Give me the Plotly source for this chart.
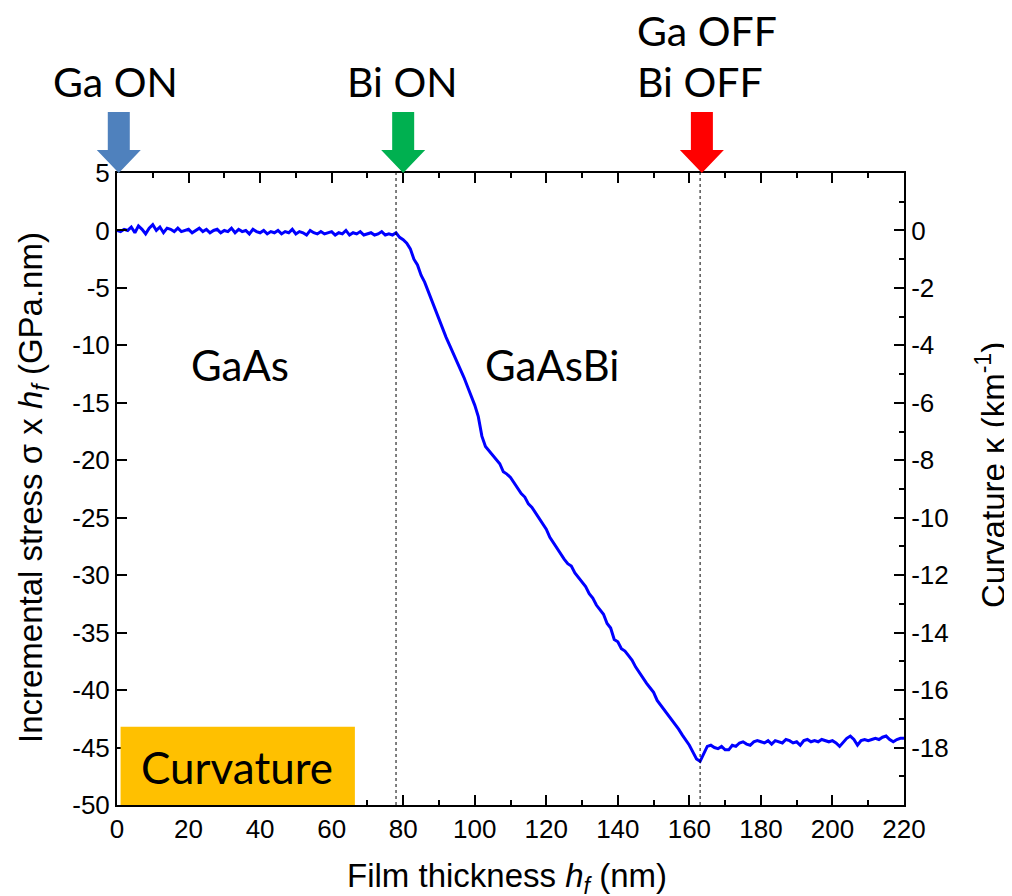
import plotly.graph_objects as go

# film thickness (nm), 1 nm steps
thickness = list(range(0, 221))

# incremental stress x thickness (GPa.nm)
stress = [
    0.0, -0.1, 0.1, 0.0, 0.3, -0.2, 0.4, 0.1, -0.3, 0.2,
    0.5, 0.0, 0.3, -0.2, 0.2, 0.1, -0.1, 0.2, -0.1, 0.0,
    0.1, -0.2, 0.0, 0.2, -0.1, 0.1, -0.2, 0.0, 0.1, -0.2,
    0.0, -0.1, 0.2, -0.2, 0.1, -0.1, 0.0, -0.3, 0.1, -0.1,
    -0.2, 0.0, -0.3, -0.1, -0.2, 0.0, -0.3, -0.1, -0.2, 0.1,
    -0.3, -0.1, -0.2, -0.4, 0.0, -0.2, -0.3, -0.1, -0.3, -0.2,
    -0.1, -0.4, -0.2, -0.3, 0.0, -0.4, -0.2, -0.3, -0.1, -0.4,
    -0.3, -0.2, -0.4, -0.3, -0.1, -0.4, -0.3, -0.4, -0.2, -0.6,
    -0.8, -1.1, -1.6, -2.5, -3.0, -3.9, -4.5, -5.3, -6.1, -6.9,
    -7.7, -8.6, -9.3, -10.0, -10.7, -11.3, -12.0, -12.8, -13.6, -14.4,
    -15.2, -16.2, -17.9, -18.8, -19.2, -19.5, -19.9, -20.3, -21.0, -21.2,
    -21.5, -22.0, -22.5, -22.9, -23.2, -23.8, -24.1, -24.6, -25.0, -25.6,
    -26.0, -26.7, -27.2, -27.6, -28.2, -28.6, -29.0, -29.2, -29.8, -30.2,
    -30.6, -31.0, -31.6, -32.0, -32.6, -33.0, -33.4, -34.2, -34.6, -35.6,
    -35.8, -36.4, -36.6, -37.0, -37.4, -38.0, -38.5, -38.9, -39.4, -39.8,
    -40.2, -40.9, -41.3, -41.8, -42.2, -42.6, -43.0, -43.4, -43.9, -44.3,
    -44.8, -45.4, -46.0, -46.2, -45.6, -44.9, -44.8, -45.0, -45.1, -44.9,
    -45.2, -45.2, -44.8, -44.9, -44.6, -44.5, -44.7, -44.8, -44.5, -44.4,
    -44.5, -44.6, -44.4, -44.7, -44.4, -44.5, -44.6, -44.3, -44.4, -44.6,
    -44.5, -44.8, -44.4, -44.3, -44.5, -44.4, -44.5, -44.3, -44.4, -44.5,
    -44.4, -44.6, -44.9, -44.5, -44.2, -44.0, -44.3, -44.8, -44.4, -44.3,
    -44.4, -44.3, -44.2, -44.3, -44.1, -44.0, -44.3, -44.5, -44.3, -44.2,
    -44.2,
]

# shutter events: thickness and arrow colour
events_x = [0.5, 80, 163.5]
event_colors = ["#4F81BD", "#00B050", "#FF0000"]
dashed_x = [78, 163]

x_range = [0, 220]
x_ticks = list(range(0, 221, 20))
x_minor = list(range(10, 220, 20))
stress_range = [-50, 5]
stress_ticks = list(range(-50, 6, 5))
curv_range = [-20, 2]
curv_ticks = [-18, -16, -14, -12, -10, -8, -6, -4, -2, 0]
curv_minor = [-19, -17, -15, -13, -11, -9, -7, -5, -3, -1, 1]

ARIAL = "Liberation Sans, Arial, sans-serif"
CALIBRI = "Lato, Carlito, sans-serif"

fig = go.Figure()
fig.add_trace(
    go.Scatter(
        x=thickness,
        y=stress,
        mode="lines",
        line={"color": "#0000FF", "width": 3},
        showlegend=False,
        hoverinfo="skip",
    )
)
fig.add_trace(go.Scatter(x=[None], y=[None], yaxis="y2", showlegend=False, hoverinfo="skip"))

# block arrows above the frame, drawn in pixels from the tip
arrow_path = "M -11,61 L 11,61 L 11,23 L 22,23 L 0,0 L -22,23 L -11,23 Z"
shapes = []
for xv, col in zip(events_x, event_colors):
    shapes.append(
        {
            "type": "path",
            "xref": "paper",
            "yref": "paper",
            "xsizemode": "pixel",
            "ysizemode": "pixel",
            "xanchor": (xv - x_range[0]) / (x_range[1] - x_range[0]),
            "yanchor": 1,
            "path": arrow_path,
            "fillcolor": col,
            "line": {"width": 0},
        }
    )
for xv in dashed_x:
    shapes.append(
        {
            "type": "line",
            "xref": "x",
            "yref": "paper",
            "x0": xv,
            "x1": xv,
            "y0": 0,
            "y1": 1,
            "line": {"color": "black", "width": 1, "dash": "3px,3px"},
        }
    )
shapes.append(
    {
        "type": "rect",
        "xref": "x",
        "yref": "y",
        "x0": 1.0,
        "x1": 66.5,
        "y0": -50,
        "y1": -43.2,
        "fillcolor": "#FFC000",
        "line": {"width": 0},
    }
)

label_font = {"family": CALIBRI, "size": 41, "color": "black"}
layer_font = {"family": CALIBRI, "size": 42, "color": "black"}
title_font = {"family": ARIAL, "size": 33, "color": "black"}
annotations = [
    {"x": -0.0013, "y": 1.144, "text": "Ga ON", "font": label_font},
    {"x": 0.3634, "y": 1.144, "text": "Bi ON", "font": label_font},
    {"x": 0.7497, "y": 1.226, "text": "Ga OFF", "font": label_font},
    {"x": 0.7408, "y": 1.144, "text": "Bi OFF", "font": label_font},
    {
        "x": -0.1067, "y": 0.5016, "textangle": -90, "font": title_font,
        "text": "Incremental stress σ x <i>h</i><sub><i>f</i></sub> (GPa.nm)",
    },
    {
        "x": 1.1105, "y": 0.522, "textangle": -90, "font": title_font,
        "text": "Curvature κ (km<sup>-1</sup>)",
    },
    {
        "x": 0.4956, "y": -0.1155, "font": title_font,
        "text": "Film thickness <i>h</i><sub><i>f</i></sub> (nm)",
    },
]
for a in annotations:
    a.update({"xref": "paper", "yref": "paper", "showarrow": False,
              "xanchor": "center", "yanchor": "middle"})
annotations += [
    {"x": 34.3, "y": -11.7, "xref": "x", "yref": "y", "text": "GaAs", "showarrow": False, "font": layer_font},
    {"x": 121.6, "y": -11.7, "xref": "x", "yref": "y", "text": "GaAsBi", "showarrow": False, "font": layer_font},
    {"x": 33.5, "y": -46.7, "xref": "x", "yref": "y", "text": "Curvature", "showarrow": False,
     "font": {"family": CALIBRI, "size": 44, "color": "black"}},
]

tick_font = {"family": ARIAL, "size": 26, "color": "black"}
tick_style = {
    "ticks": "inside",
    "ticklen": 10,
    "tickwidth": 2,
    "tickcolor": "black",
    "showline": True,
    "linecolor": "black",
    "linewidth": 2,
    "showgrid": False,
    "zeroline": False,
    "tickfont": tick_font,
}
minor_style = {"ticks": "inside", "ticklen": 5, "tickwidth": 2, "tickcolor": "black"}

fig.update_layout(
    width=1012,
    height=896,
    margin={"l": 109, "r": 116, "t": 165, "b": 99},
    paper_bgcolor="white",
    plot_bgcolor="white",
    showlegend=False,
    shapes=shapes,
    annotations=annotations,
    xaxis={
        "range": x_range,
        "tickvals": x_ticks,
        "ticktext": [str(v) for v in x_ticks],
        "minor": {"tickvals": x_minor, **minor_style},
        "mirror": "ticks",
        **tick_style,
    },
    yaxis={
        "range": stress_range,
        "tickvals": stress_ticks,
        "ticktext": [str(v) for v in stress_ticks],
        **tick_style,
    },
    yaxis2={
        "range": curv_range,
        "overlaying": "y",
        "side": "right",
        "tickvals": curv_ticks,
        "ticktext": [str(v) for v in curv_ticks],
        "minor": {"tickvals": curv_minor, **minor_style},
        **tick_style,
    },
)

fig.write_html("out.html")
